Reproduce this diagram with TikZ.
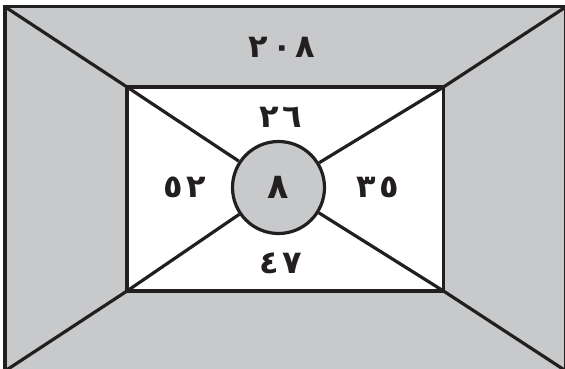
\documentclass[tikz,border=0pt]{standalone}
\usepackage{fontspec}
\newfontfamily\arabicfont[Script=Arabic, LetterSpace=12]{DejaVu Sans}
\usepackage{xcolor}
\definecolor{panelgray}{RGB}{200,201,203}
\definecolor{inkblack}{RGB}{35,31,32}

\begin{document}
\begin{tikzpicture}[
    x=1pt, y=-1pt,
    edge/.style={draw=inkblack, line width=3.2pt, line join=miter},
    hub/.style={circle, draw=inkblack, fill=panelgray, line width=3.2pt, minimum size=92pt, inner sep=0pt, font=\arabicfont\bfseries\fontsize{35}{35}\selectfont, text=inkblack},
    num/.style={font=\arabicfont\bfseries\fontsize{32}{32}\selectfont, text=inkblack, inner sep=0pt}
]
    \clip (0,0) rectangle (565,368);

    \coordinate (outerNW) at (5,6.8);
    \coordinate (outerNE) at (566,6.8);
    \coordinate (outerSE) at (566,371);
    \coordinate (outerSW) at (5,371);
    \coordinate (innerNW) at (127,87);
    \coordinate (innerNE) at (443.5,87);
    \coordinate (innerSE) at (443.5,291);
    \coordinate (innerSW) at (127,291);

    \fill [panelgray] (outerNW) rectangle (outerSE);
    \fill [white] (innerNW) rectangle (innerSE);

    \draw [edge] (outerNW) -- (innerNW);
    \draw [edge] (outerNE) -- (innerNE);
    \draw [edge] (outerSE) -- (innerSE);
    \draw [edge] (outerSW) -- (innerSW);
    \draw [edge] (outerNW) rectangle (outerSE);
    \draw [edge] (innerNW) rectangle (innerSE);

    \node [hub] (hub) at (278.5,187.5) {٨};
    \draw [edge] (innerNW) -- (hub);
    \draw [edge] (innerNE) -- (hub);
    \draw [edge] (innerSE) -- (hub);
    \draw [edge] (innerSW) -- (hub);

    \node [num] (outerNum) at (282,47) {٢٠٨};
    \node [num] (topNum) at (281,117) {٢٦};
    \node [num] (leftNum) at (185,187) {٥٢};
    \node [num] (rightNum) at (378,187) {٣٥};
    \node [num] (bottomNum) at (281,263) {٤٧};
\end{tikzpicture}
\end{document}
